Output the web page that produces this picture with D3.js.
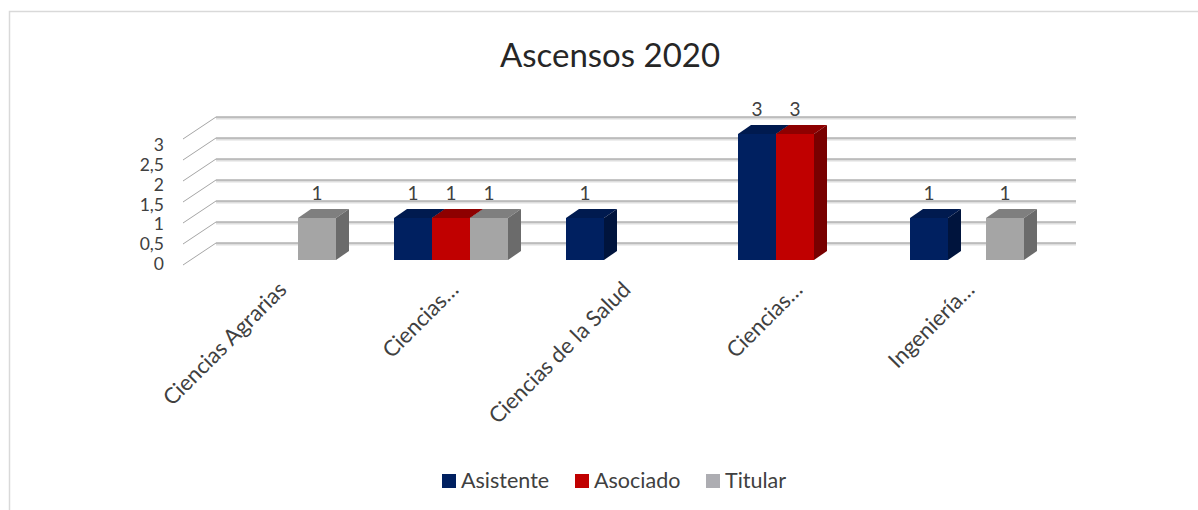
<!DOCTYPE html>
<html><head><meta charset="utf-8">
<script src="https://cdn.jsdelivr.net/npm/d3@7"></script>
<style>
html,body{margin:0;padding:0;background:#fff;}
text{font-family:Lato,"Open Sans",sans-serif;fill:#404040;}
</style></head>
<body>
<svg id="c" width="1198" height="510"></svg>
<script>
const title = "Ascensos 2020";
const categories = ["Ciencias Agrarias","Ciencias…","Ciencias de la Salud","Ciencias…","Ingeniería…"];
const seriesNames = ["Asistente","Asociado","Titular"];
const asistente = [0,1,1,3,1];
const asociado  = [0,1,0,3,0];
const titular   = [1,1,0,0,1];
const yTicks = [0,0.5,1,1.5,2,2.5,3];
const yTickLabels = ["0","0,5","1","1,5","2","2,5","3"];

const seriesValues = [asistente, asociado, titular];
const front = ["#002060","#C00000","#A5A5A5"];
const topC  = ["#001a4f","#8e0000","#7f7f7f"];
const sideC = ["#00143d","#780000","#6b6b6b"];
const legendC = ["#002060","#C00000","#ADADB2"];

const svg = d3.select("#c");
svg.append("rect").attr("x",9.5).attr("y",11.5).attr("width",1200).attr("height",520)
  .attr("fill","#fff").attr("stroke","#d9d9d9").attr("stroke-width",1.5);

// title
svg.append("text").attr("x",610).attr("y",67).attr("text-anchor","middle")
  .style("font-size","33px").style("fill","#262626").text(title);

// 3D geometry
const wallDX = 33, wallDY = -22;   // back wall offset from front floor
const barDX = 7, barDY = -5;       // bar plane offset from front
const depthDX = 13, depthDY = -9;  // bar depth

const yFront = d3.scaleLinear().domain([0,3]).range([265,139]);
const xFront = d3.scaleLinear().domain([0,1]).range([183,1043]);

// back wall gridlines
const g = svg.append("g");
yTicks.forEach(v=>{
  const yb = yFront(v)+wallDY;
  g.append("line").attr("x1",xFront(0)+wallDX).attr("x2",xFront(1)+wallDX)
    .attr("y1",yb+1.5).attr("y2",yb+1.5).attr("stroke","#dedede").attr("stroke-width",2);
  g.append("line").attr("x1",xFront(0)+wallDX).attr("x2",xFront(1)+wallDX)
    .attr("y1",yb).attr("y2",yb).attr("stroke","#8a8a8a").attr("stroke-width",1);
  g.append("line").attr("x1",xFront(0)).attr("y1",yFront(v))
    .attr("x2",xFront(0)+wallDX).attr("y2",yb).attr("stroke","#a6a6a6").attr("stroke-width",1);
});

// y labels
const yLab = d3.scaleLinear().domain([0,3]).range([264,145]);
yTicks.forEach((v,i)=>{
  svg.append("text").attr("x",164).attr("y",yLab(v)).attr("dy","0.35em")
    .attr("text-anchor","end").style("font-size","17.5px").text(yTickLabels[i]);
});

// bars
const x0 = d3.scaleBand().domain(d3.range(categories.length)).range([193,1053]).padding(0);
const bw = 38;
const x1 = d3.scaleBand().domain(d3.range(seriesNames.length))
  .range([0,bw*3]);
const yBar = v => yFront(v)+barDY;
const bars = svg.append("g");
categories.forEach((c,ci)=>{
  const gx = x0(ci)+(x0.bandwidth()-bw*3)/2;
  seriesNames.forEach((s,si)=>{
    const v = seriesValues[si][ci];
    if(!v) return;
    const xl = gx + x1(si), xr = xl + x1.bandwidth();
    const yt = yBar(v), yb = yBar(0);
    bars.append("rect").attr("x",xl).attr("y",yt).attr("width",xr-xl).attr("height",yb-yt)
      .attr("fill",front[si]);
    bars.append("path").attr("d",`M${xl},${yt}L${xr},${yt}L${xr+depthDX},${yt+depthDY}L${xl+depthDX},${yt+depthDY}Z`)
      .attr("fill",topC[si]);
    bars.append("path").attr("d",`M${xr},${yt}L${xr+depthDX},${yt+depthDY}L${xr+depthDX},${yb+depthDY}L${xr},${yb}Z`)
      .attr("fill",sideC[si]);
    svg.append("text").attr("x",(xl+xr)/2).attr("y",yt+depthDY-9).attr("text-anchor","middle")
      .style("font-size","19px").text(v);
  });
});

// category labels
categories.forEach((c,ci)=>{
  const cx = x0(ci)+x0.bandwidth()/2;
  svg.append("text").attr("transform",`translate(${cx+9},${291}) rotate(-45)`)
    .attr("text-anchor","end").style("font-size","22px").text(c);
});

// legend
const leg = svg.append("g");
const legX = [442,575,706];
seriesNames.forEach((s,i)=>{
  leg.append("rect").attr("x",legX[i]).attr("y",474).attr("width",14).attr("height",14).attr("fill",legendC[i]);
  leg.append("text").attr("x",legX[i]+19).attr("y",488).style("font-size","21.5px").text(s);
});
</script>
</body></html>
